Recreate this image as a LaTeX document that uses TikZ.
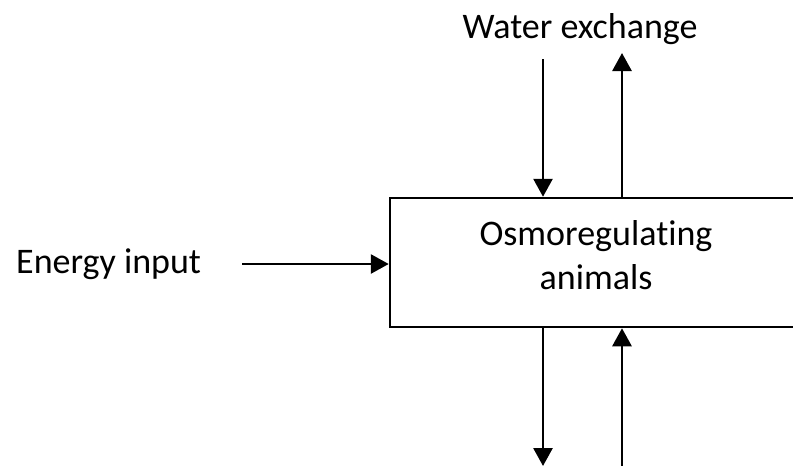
\documentclass[tikz,border=0pt]{standalone}
\usepackage{fontspec}
\setmainfont{Carlito}[Ligatures=NoCommon]
\usetikzlibrary{arrows.meta}
\begin{document}
\begin{tikzpicture}[x=1pt,y=-1pt,
  lbl/.style={font=\fontsize{36}{44}\selectfont, inner sep=0pt},
  flow/.style={line width=2.8pt, -{Triangle[length=18pt,width=19pt]}},
  boxst/.style={draw, line width=2.5pt, minimum width=412pt, minimum height=129pt, inner sep=0pt}]
\useasboundingbox (0,0) rectangle (793,466);
\clip (0,0) rectangle (793,466);
\node[boxst] (box) at (596,262.5) {};
\node[lbl, align=center] (boxtext) at (596,255) {Osmoregulating\\animals};
\node[lbl, anchor=base] (water) at (580,38) {Water exchange};
\node[lbl, anchor=base west] (energy) at (16,273) {Energy input};
\coordinate (e0) at (242,264);
\coordinate (t1) at (543,59);
\coordinate (t2) at (622,53);
\coordinate (b1) at (543,466);
\coordinate (b2) at (622,466);
\draw[flow] (e0) -- (e0 -| box.west);
\draw[flow] (t1) -- (t1 |- box.north);
\draw[flow] (t2 |- box.north) -- (t2);
\draw[flow] (b1 |- box.south) -- (b1);
\draw[flow] (b2) -- (b2 |- box.south);
\end{tikzpicture}
\end{document}
